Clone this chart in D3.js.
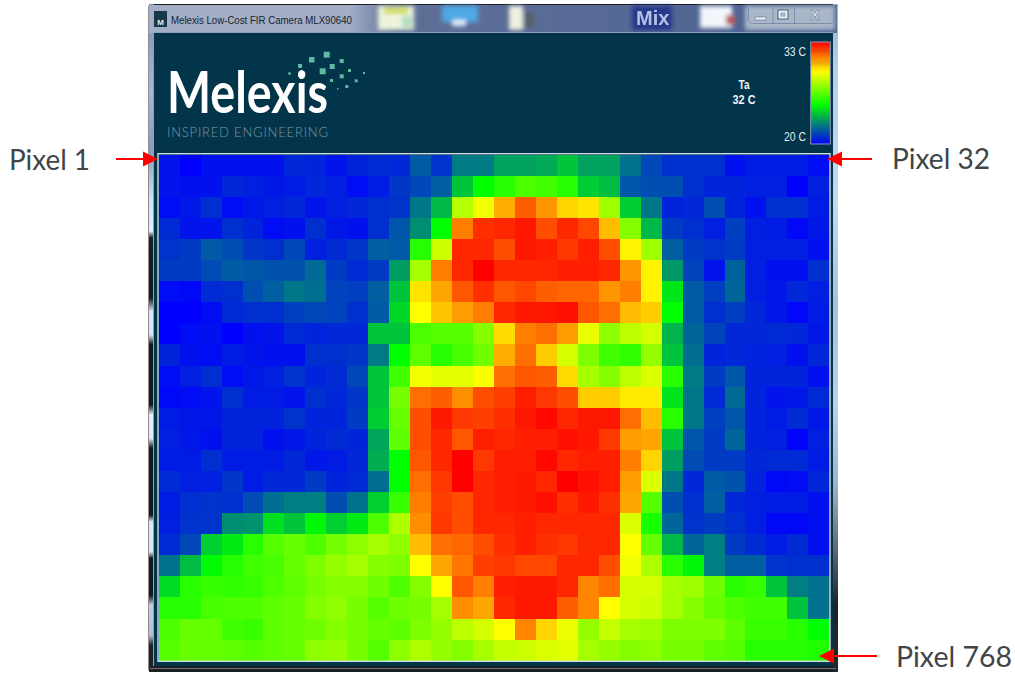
<!DOCTYPE html>
<html lang="en">

<head>
    <meta charset="UTF-8">
    <title>Melexis Low-Cost FIR Camera MLX90640</title>
    <script src="https://d3js.org/d3.v7.min.js"></script>
    <style>
        html, body { margin: 0; padding: 0; background: #fff; }
        svg { display: block; }
    </style>
</head>

<body>
    <div id="chart"></div>

    <script>
        // temperature per pixel in C, 24 rows of 32
        const row0 = [20.5,20.0,20.4,20.4,20.4,20.4,21.0,20.9,20.5,20.9,21.1,21.0,22.3,21.3,23.1,23.1,24.1,24.1,24.3,25.0,24.1,24.1,22.9,21.8,21.2,21.2,21.2,20.4,20.7,20.7,20.7,20.3];
        const row1 = [20.5,20.4,20.4,21.0,20.8,20.6,20.7,21.0,20.8,20.3,20.7,21.4,21.8,22.4,25.0,26.5,27.0,27.5,27.3,27.0,25.2,24.8,22.2,22.0,22.0,21.2,20.9,20.9,20.8,20.8,20.0,20.8];
        const row2 = [20.3,20.6,21.2,20.3,20.6,20.8,21.0,20.5,20.8,21.0,21.2,21.3,23.0,24.7,28.8,29.6,30.8,31.8,31.1,30.3,30.1,28.5,25.2,23.0,20.9,21.0,22.0,20.9,20.4,21.2,21.2,20.7];
        const row3 = [21.1,20.5,20.5,21.2,20.9,20.3,20.4,21.2,20.6,20.4,21.2,22.2,23.6,26.5,31.4,32.4,32.5,32.7,32.0,32.5,32.1,30.6,28.2,24.7,21.5,21.2,20.8,21.6,20.8,20.7,20.2,20.6];
        const row4 = [21.3,21.5,22.3,22.0,21.4,21.2,21.8,20.8,21.1,21.4,22.4,22.3,27.0,29.1,32.5,32.5,32.0,32.7,32.6,32.3,32.6,32.0,29.9,28.5,22.4,21.5,21.3,21.5,20.8,20.8,20.8,20.4];
        const row5 = [21.5,21.5,21.9,22.3,22.2,22.1,22.1,22.7,21.5,21.1,21.5,24.0,28.6,31.4,32.5,33.0,32.5,32.5,32.5,32.6,32.6,32.5,31.1,29.9,23.9,21.7,20.5,22.5,20.8,20.4,20.4,21.2];
        const row6 = [20.3,20.2,21.1,21.2,22.0,22.4,23.0,22.8,21.7,21.6,22.4,25.0,30.1,30.9,31.9,32.4,31.9,32.1,31.8,31.7,31.7,31.1,31.4,29.9,25.9,22.3,21.6,22.6,20.8,20.6,21.0,20.8];
        const row7 = [20.0,20.0,20.3,21.1,21.2,21.2,21.6,21.8,21.7,21.2,22.3,25.5,29.75,30.5,31.0,31.4,32.5,32.7,32.7,32.8,31.9,31.6,30.6,30.4,26.5,22.3,21.2,21.6,21.0,20.6,20.2,20.7];
        const row8 = [20.0,20.3,20.4,20.0,20.4,20.5,21.1,20.9,21.0,21.0,25.0,25.0,27.5,27.6,27.6,28.2,30.2,31.4,31.6,31.0,29.5,28.3,28.9,29.2,24.6,22.6,21.7,21.0,21.0,21.1,21.0,20.6];
        const row9 = [20.9,20.4,20.3,20.7,20.5,20.4,20.4,21.2,21.2,21.4,23.1,26.5,27.7,27.0,27.4,27.9,30.8,31.6,30.4,29.2,28.1,27.3,27.1,28.4,25.0,22.8,20.9,21.0,20.9,20.8,20.4,21.0];
        const row10 = [20.3,20.8,21.2,20.3,20.6,20.8,21.3,20.9,21.1,21.8,25.0,27.3,29.6,29.4,29.4,29.7,31.6,31.9,31.8,30.2,28.6,28.2,28.9,29.3,27.0,23.1,21.5,22.2,20.9,20.9,20.9,20.4];
        const row11 = [20.2,20.3,20.5,21.2,20.7,20.7,20.5,21.2,21.0,21.4,25.0,28.0,31.6,31.8,31.2,32.0,32.2,32.6,32.3,32.0,30.4,30.4,30.0,30.0,25.8,23.0,21.1,22.7,20.9,20.5,20.6,21.1];
        const row12 = [20.7,20.6,20.6,20.9,20.9,20.9,21.3,20.9,20.9,21.5,25.2,27.8,32.0,32.7,32.3,32.2,32.4,32.7,32.9,32.5,32.7,32.7,31.6,30.6,27.0,23.0,21.6,22.2,20.9,20.7,21.1,20.6];
        const row13 = [20.8,20.6,20.4,20.9,20.9,20.4,20.6,20.9,21.1,20.9,24.2,27.7,32.0,32.5,31.9,32.6,32.5,32.6,32.6,32.8,32.7,32.3,31.0,30.9,25.0,22.2,21.5,22.6,20.9,20.8,20.1,20.8];
        const row14 = [20.7,20.7,21.2,20.7,20.7,20.7,21.0,20.6,20.7,21.0,24.4,26.5,31.9,32.5,33.0,32.3,32.6,32.6,32.9,32.5,32.6,32.6,31.4,30.3,24.0,21.9,21.5,21.5,21.0,21.1,21.1,20.7];
        const row15 = [21.1,20.8,20.8,21.4,20.7,21.0,21.0,21.5,20.9,21.1,22.8,26.5,31.6,32.3,33.0,32.5,32.6,32.7,32.5,33.0,32.8,32.6,31.0,29.3,23.0,21.0,22.3,22.1,20.9,20.2,20.3,21.0];
        const row16 = [20.7,21.2,21.3,21.2,21.9,22.8,23.2,23.2,22.0,22.9,25.3,27.2,31.4,32.2,32.0,32.5,32.6,32.7,32.8,32.4,32.7,32.4,30.9,27.6,22.0,21.2,22.4,21.0,20.8,20.7,20.7,20.4];
        const row17 = [20.8,21.3,21.3,23.6,23.7,25.7,25.0,26.3,25.3,26.0,27.5,28.7,31.2,32.3,32.0,32.5,32.5,32.6,32.5,32.5,32.5,32.5,29.3,26.8,22.6,21.3,21.5,21.2,20.8,20.2,20.2,20.4];
        const row18 = [21.1,21.8,25.3,26.0,27.0,27.6,27.8,27.5,28.0,28.3,28.6,28.3,30.6,31.6,31.7,32.0,32.4,32.6,32.4,32.3,32.5,32.5,29.75,27.8,24.7,22.6,23.2,21.5,21.1,20.7,21.1,20.4];
        const row19 = [22.9,24.8,26.4,27.0,27.3,27.4,27.8,28.1,28.4,28.6,28.2,28.1,29.75,30.9,31.5,32.2,32.3,32.1,32.1,32.5,32.5,32.0,29.6,28.7,27.0,26.3,23.2,22.4,22.4,21.3,21.2,21.2];
        const row20 = [25.6,27.0,27.2,27.1,27.2,27.5,27.7,28.0,28.2,28.2,27.9,27.5,28.2,29.75,31.9,31.4,32.6,32.7,32.7,32.5,31.3,31.6,29.2,29.2,28.6,28.5,27.9,27.0,27.2,25.0,23.2,22.9];
        const row21 = [27.0,27.0,27.4,27.5,27.5,27.7,27.8,28.2,28.3,28.0,27.6,27.9,28.0,28.6,31.2,30.9,32.5,32.7,32.7,31.8,31.3,29.75,29.2,29.1,28.6,28.2,27.8,27.5,27.3,27.3,25.0,22.9];
        const row22 = [27.5,27.8,27.8,27.3,27.2,27.7,27.8,27.9,28.2,28.0,27.8,27.7,28.1,28.4,28.9,29.2,29.75,31.3,30.3,29.5,28.4,29.0,28.6,28.5,28.1,28.1,28.1,27.7,27.2,27.2,27.0,26.5];
        const row23 = [27.6,27.8,27.8,27.7,27.6,27.7,27.8,28.3,28.4,28.0,27.6,28.3,28.7,28.4,28.2,28.6,29.0,29.1,29.3,29.4,28.6,28.4,28.2,28.3,28.0,28.0,27.7,27.6,27.0,27.0,27.0,26.9];
        const rows = [row0,row1,row2,row3,row4,row5,row6,row7,row8,row9,row10,row11,row12,row13,row14,row15,row16,row17,row18,row19,row20,row21,row22,row23];

        const tempStops = [20, 26.5, 29.75, 33];
        const colorStops = ['#0000ff', '#00ff00', '#ffff00', '#ff0000'];
        const tempLabels = ['33 C', '20 C'];
        const ambientLabels = ['Ta', '32 C'];
        const pixelLabels = ['Pixel 1', 'Pixel 32', 'Pixel 768'];
        const titleText = 'Melexis Low-Cost FIR Camera MLX90640';

        const width = 1015;
        const height = 673;

        const svg = d3.select('#chart').append('svg')
            .attr('width', width)
            .attr('height', height)
            .attr('viewBox', '0 0 ' + width + ' ' + height);

        const defs = svg.append('defs');
        defs.append('filter').attr('id', 'soft').attr('x', '-30%').attr('y', '-30%').attr('width', '160%').attr('height', '160%')
            .append('feGaussianBlur').attr('stdDeviation', 2.2);

        // glass strip either side of the window
        function stripGradient(id, stops) {
            const g = defs.append('linearGradient').attr('id', id)
                .attr('x1', 0).attr('y1', 0).attr('x2', 0).attr('y2', 1);
            stops.forEach(s => g.append('stop').attr('offset', s[0]).attr('stop-color', s[1]));
        }
        stripGradient('leftStrip', [[0, '#7f8fa8'], [0.13, '#a9b6d0'], [0.22, '#8a9ab8'], [0.29, '#c9e2f5'], [0.34, '#e0f0ff'],
            [0.35, '#1c1f22'], [0.44, '#15181a'], [0.46, '#d5e8f8'], [0.495, '#d5e8f8'], [0.51, '#15181a'], [0.6, '#15181a'],
            [0.615, '#e0eefa'], [0.65, '#dcecf8'], [0.665, '#15181a'], [0.765, '#15181a'], [0.775, '#d8e8f5'], [0.82, '#d8e8f5'],
            [0.83, '#15181a'], [0.885, '#15181a'], [0.9, '#c0d0e0'], [0.945, '#b0c0d0'], [0.96, '#222'], [1, '#222']]);
        stripGradient('rightStrip', [[0, '#9fb0c8'], [0.1, '#b9cfe8'], [0.3, '#c5d8ee'], [0.45, '#a8bedb'], [0.6, '#bcd0ea'],
            [0.72, '#a0b2c8'], [0.82, '#5c6570'], [0.9, '#1e2226'], [1, '#26282b']]);

        const win = svg.append('g');

        // window frame
        win.append('rect').attr('x', 148.5).attr('y', 4).attr('width', 689).attr('height', 668).attr('rx', 3).attr('fill', '#1b1e22');
        win.append('rect').attr('x', 149).attr('y', 4).attr('width', 5).attr('height', 668).attr('fill', 'url(#leftStrip)');
        win.append('rect').attr('x', 833).attr('y', 4).attr('width', 5).attr('height', 668).attr('fill', 'url(#rightStrip)');

        // title bar with the blurred desktop behind it
        const bar = win.append('g');
        const barFill = defs.append('linearGradient').attr('id', 'barFill');
        [[0, '#a2aec6'], [0.29, '#a2aec6'], [0.36, '#5f7098'], [1, '#4d6292']]
            .forEach(s => barFill.append('stop').attr('offset', s[0]).attr('stop-color', s[1]));
        bar.append('rect').attr('x', 149).attr('y', 5).attr('width', 688).attr('height', 28).attr('fill', 'url(#barFill)');
        const blobs = bar.append('g').attr('filter', 'url(#soft)');
        [[378, 6, 36, 24, '#eef4dc'], [384, 7, 24, 7, '#d3dc60'], [402, 16, 10, 12, '#b4dcc0'], [420, 8, 18, 24, '#5d6d94'],
         [442, 6, 36, 16, '#4ea8e4'], [452, 20, 14, 6, '#dfeefa'], [509, 6, 14, 24, '#eef0e0'], [524, 12, 10, 16, '#59606a'],
         [632, 6, 40, 24, '#28388a'], [700, 6, 32, 22, '#f2f5fa'], [726, 15, 9, 10, '#b85a5a'], [745, 6, 90, 24, '#a9b8c9']]
            .forEach(b => blobs.append('rect').attr('x', b[0]).attr('y', b[1]).attr('width', b[2]).attr('height', b[3]).attr('fill', b[4]));
        bar.append('text').attr('x', 636).attr('y', 25).attr('font-family', 'Liberation Sans').attr('font-weight', 700)
            .attr('font-size', 20).attr('fill', '#c4d0ec').attr('opacity', 0.9).text('Mix');

        bar.append('rect').attr('x', 154).attr('y', 11).attr('width', 13).attr('height', 16).attr('fill', '#17384a');
        bar.append('text').attr('x', 160.5).attr('y', 25).attr('text-anchor', 'middle').attr('font-family', 'Liberation Sans')
            .attr('font-weight', 700).attr('font-size', 8).attr('fill', '#e8eef0').text('M');
        bar.append('text').attr('x', 171).attr('y', 24).attr('font-family', 'Liberation Sans')
            .attr('font-size', 10.5).attr('textLength', 181).attr('lengthAdjust', 'spacingAndGlyphs')
            .attr('fill', '#1a2330').text(titleText);

        // min / max / close
        bar.append('path').attr('d', 'M748.5 5V19.5a4 4 0 0 0 4 4H830a4 4 0 0 0 4-4V5M773 5V24M794.5 5V24')
            .attr('fill', 'none').attr('stroke', '#7c8ea8').attr('stroke-width', 1);
        bar.append('rect').attr('x', 755).attr('y', 17).attr('width', 11).attr('height', 3).attr('fill', '#e8eef4').attr('stroke', '#5a6a80').attr('stroke-width', 0.6);
        bar.append('rect').attr('x', 778).attr('y', 10).attr('width', 10).attr('height', 9).attr('fill', 'none').attr('stroke', '#4c5a6e').attr('stroke-width', 1);
        bar.append('rect').attr('x', 779.5).attr('y', 11.5).attr('width', 7).attr('height', 6).attr('fill', 'none').attr('stroke', '#eef2f6').attr('stroke-width', 1.6);
        bar.append('text').attr('x', 815).attr('y', 20).attr('text-anchor', 'middle').attr('font-family', 'Liberation Sans')
            .attr('font-weight', 700).attr('font-size', 14).attr('fill', '#eef2f6').attr('stroke', '#5a6a80').attr('stroke-width', 0.5).text('X');

        // dark camera panel
        win.append('rect').attr('x', 154).attr('y', 33).attr('width', 679).attr('height', 633).attr('fill', '#02344a');
        win.append('path').attr('d', 'M153.5 666V32.5H833').attr('fill', 'none').attr('stroke', '#8fa0b4').attr('stroke-width', 1);
        win.append('path').attr('d', 'M150 668.5H836').attr('fill', 'none').attr('stroke', '#6b7278').attr('stroke-width', 1);

        // logo
        const logo = win.append('g');
        logo.append('text').attr('x', 167).attr('y', 113).attr('font-family', 'Lato').attr('font-weight', 700)
            .attr('font-size', 58).attr('textLength', 161).attr('lengthAdjust', 'spacingAndGlyphs')
            .attr('fill', '#ffffff').text('Melexis');
        logo.append('text').attr('x', 167).attr('y', 137).attr('font-family', 'Lato').attr('font-weight', 300).attr('font-size', 13)
            .attr('textLength', 161).attr('fill', '#7d98a4').text('INSPIRED  ENGINEERING');
        const dots = [[323.7,51.7,6],[309,57,5.5],[339.7,59,4],[298,64,4],[329.7,64,5],[319.7,68.3,6],[348,69,3],[288.3,72.3,2.5],
            [339.7,74.3,4],[363,72,2],[330,79,3],[354.7,79.3,3],[345.3,85,3],[337,88,1.5]];
        logo.selectAll('rect.dot').data(dots).enter().append('rect')
            .attr('class', 'dot')
            .attr('x', d => d[0]).attr('y', d => d[1]).attr('width', d => d[2]).attr('height', d => d[2])
            .attr('fill', '#5fb8a2');

        // heat map
        const color = d3.scaleLinear().domain(tempStops).range(colorStops);
        const x = d3.scaleBand().domain(d3.range(32)).range([158.7, 829.3]);
        const y = d3.scaleBand().domain(d3.range(24)).range([154.7, 660.7]);

        const cells = rows.flatMap((r, j) => r.map((v, i) => ({ i, j, v })));
        svg.append('g').attr('shape-rendering', 'crispEdges').selectAll('rect').data(cells).enter().append('rect')
            .attr('x', d => x(d.i))
            .attr('y', d => y(d.j))
            .attr('width', x.bandwidth() + 0.4)
            .attr('height', y.bandwidth() + 0.4)
            .attr('fill', d => color(d.v));
        svg.append('rect').attr('x', 158).attr('y', 153.7).attr('width', 672).attr('height', 507.6)
            .attr('fill', 'none').attr('stroke', '#cfdbe4').attr('stroke-width', 1.4);

        // colour bar, same colours on a bar that gives green and yellow their own spans
        const barY = d3.scaleLinear().domain(tempStops).range([144, 105, 72, 42]);
        const barSteps = d3.range(20, 33, 0.1);
        svg.append('g').selectAll('rect').data(barSteps).enter().append('rect')
            .attr('x', 811)
            .attr('width', 19)
            .attr('y', d => barY(d + 0.1))
            .attr('height', d => barY(d) - barY(d + 0.1) + 0.5)
            .attr('fill', d => color(d));
        svg.append('rect').attr('x', 810.7).attr('y', 42).attr('width', 19.6).attr('height', 102)
            .attr('fill', 'none').attr('stroke', '#8d9fb2').attr('stroke-width', 1);

        svg.selectAll('text.tempLabel').data(tempLabels).enter().append('text')
            .attr('class', 'tempLabel')
            .attr('x', 784)
            .attr('y', (d, i) => i === 0 ? 55.5 : 140.5)
            .attr('textLength', 22).attr('lengthAdjust', 'spacingAndGlyphs')
            .attr('font-family', 'Liberation Sans').attr('font-size', 12).attr('fill', '#e4ecef')
            .text(d => d);
        svg.selectAll('text.ambient').data(ambientLabels).enter().append('text')
            .attr('class', 'ambient')
            .attr('x', (d, i) => i === 0 ? 738.5 : 732.5)
            .attr('y', (d, i) => 88.5 + i * 15.5)
            .attr('textLength', (d, i) => i === 0 ? 11 : 23).attr('lengthAdjust', 'spacingAndGlyphs')
            .attr('font-family', 'Liberation Sans').attr('font-weight', 700).attr('font-size', 12).attr('fill', '#eef3f5')
            .text(d => d);

        // arrows and their labels
        function arrow(tipX, endX, yPos) {
            const dir = endX > tipX ? 1 : -1;
            svg.append('line').attr('x1', tipX + dir * 12).attr('x2', endX).attr('y1', yPos).attr('y2', yPos)
                .attr('stroke', '#ff0000').attr('stroke-width', 2);
            svg.append('path')
                .attr('d', 'M' + tipX + ' ' + yPos + 'L' + (tipX + dir * 15) + ' ' + (yPos - 7.5) + 'V' + (yPos + 7.5) + 'Z')
                .attr('fill', '#ff0000');
        }
        arrow(158, 116, 159);
        arrow(827, 872, 159);
        arrow(819, 877, 656);

        const labelPos = [[9, 170, 81], [892, 169, 98], [896, 667, 116]];
        svg.selectAll('text.pixel').data(pixelLabels).enter().append('text')
            .attr('class', 'pixel')
            .attr('x', (d, i) => labelPos[i][0])
            .attr('y', (d, i) => labelPos[i][1])
            .attr('textLength', (d, i) => labelPos[i][2])
            .attr('lengthAdjust', 'spacingAndGlyphs')
            .attr('font-family', 'Lato').attr('font-size', 28).attr('fill', '#404548')
            .text(d => d);
    </script>

</body>

</html>
